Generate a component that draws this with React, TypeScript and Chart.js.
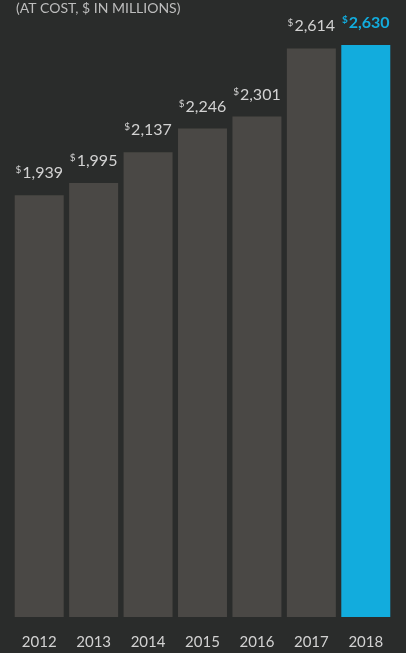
import React, { useEffect, useRef } from "react";
import { Chart, registerables } from "chart.js";

Chart.register(...registerables);

const years = ["2012", "2013", "2014", "2015", "2016", "2017", "2018"];
const values = [1939, 1995, 2137, 2246, 2301, 2614, 2630];
const valueLabels = ["1,939", "1,995", "2,137", "2,246", "2,301", "2,614", "2,630"];
const subtitle = "(AT COST, $ IN MILLIONS)";

const BG = "#2a2c2b";
const BAR = "#4a4845";
const BLUE = "#12acdd";
const TEXT = "#d2d2d2";
const FONT = "Lato, 'Open Sans', sans-serif";

export default function App() {
  const ref = useRef<HTMLCanvasElement>(null);
  useEffect(() => {
    document.body.style.margin = "0";
    document.body.style.background = BG;
    const last = values.length - 1;
    const labelPlugin = {
      id: "valueLabels",
      afterDatasetsDraw(chart: any) {
        const ctx = chart.ctx;
        const meta = chart.getDatasetMeta(0);
        ctx.save();
        meta.data.forEach((bar: any, i: number) => {
          const isLast = i === last;
          const numFont = `${isLast ? "bold " : ""}16px ${FONT}`;
          const supFont = `${isLast ? "bold " : ""}10px ${FONT}`;
          ctx.font = numFont;
          const nw = ctx.measureText(valueLabels[i]).width;
          ctx.font = supFont;
          const sw = ctx.measureText("$").width + 1;
          const total = nw + sw;
          const x0 = bar.x - total / 2;
          const baseline = bar.y - 17;
          ctx.fillStyle = isLast ? BLUE : TEXT;
          ctx.textAlign = "left";
          ctx.textBaseline = "alphabetic";
          ctx.font = supFont;
          ctx.fillText("$", x0, baseline - 5);
          ctx.font = numFont;
          ctx.fillText(valueLabels[i], x0 + sw, baseline);
        });
        ctx.font = `14px ${FONT}`;
        ctx.fillStyle = "#bdbdbd";
        ctx.fillText(subtitle, 16, 13);
        ctx.restore();
      },
    };
    const chart = new Chart(ref.current!, {
      type: "bar",
      data: {
        labels: years,
        datasets: [
          {
            data: values,
            backgroundColor: values.map((_, i) => (i === last ? BLUE : BAR)),
            barPercentage: 0.9,
            categoryPercentage: 1,
            borderWidth: 0,
          },
        ],
      },
      options: {
        animation: false,
        responsive: false,
        maintainAspectRatio: false,
        layout: { padding: { top: 45, bottom: 2, left: 12, right: 13 } },
        plugins: { legend: { display: false }, tooltip: { enabled: false }, title: { display: false } },
        scales: {
          x: {
            grid: { display: false, drawTicks: false },
            border: { display: false },
            ticks: { color: TEXT, font: { family: FONT, size: 15 }, padding: 16 },
            afterFit: (axis: any) => {
              axis.height = 34;
            },
          },
          y: { display: false, min: 0, max: 2630 },
        },
      },
      plugins: [labelPlugin],
    });
    return () => chart.destroy();
  }, []);
  return (
    <div style={{ width: 406, height: 653, background: BG }}>
      <canvas ref={ref} width={406} height={653} style={{ display: "block" }} />
    </div>
  );
}
